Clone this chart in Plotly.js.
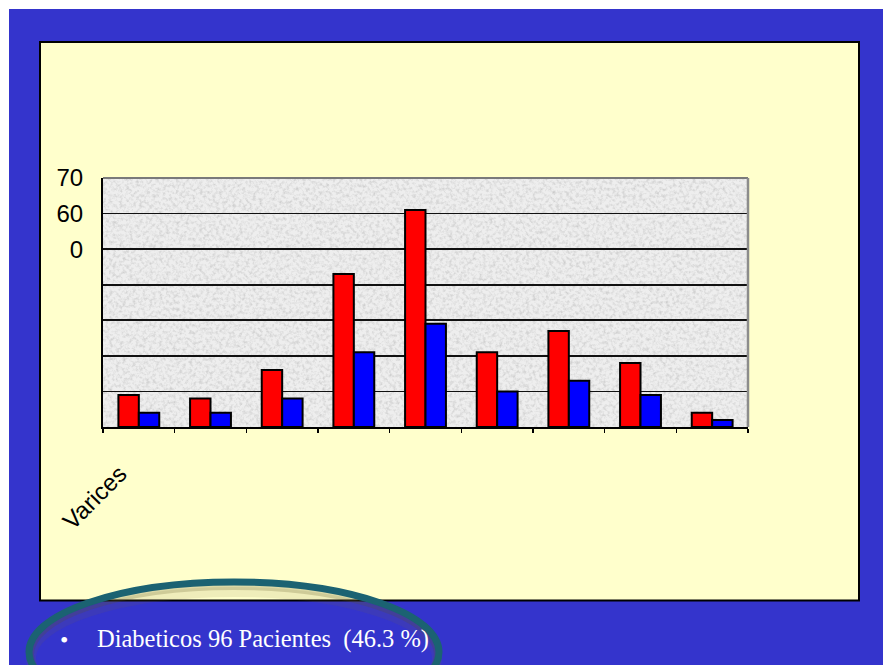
<!DOCTYPE html>
<html>
<head>
<meta charset="utf-8">
<script src="https://cdn.plot.ly/plotly-3.0.1.min.js"></script>
<style>
  html, body { margin: 0; padding: 0; background: #ffffff; }
  #chart { width: 883px; height: 665px; }
</style>
</head>
<body>
<div id="chart"></div>
<script>
// Category positions (nine groups) and the label shown under the first one
const groups = [1, 2, 3, 4, 5, 6, 7, 8, 9];
const firstGroupLabel = "Varices";

// Bar values per group
const redValues  = [9, 8, 16, 43, 61, 21, 27, 18, 4];
const blueValues = [4, 4, 8, 21, 29, 10, 13, 9, 2];

// Y axis ticks and their printed labels
const yTickVals = [0, 10, 20, 30, 40, 50, 60, 70];
const yTickText = ["", "", "", "", "", "0", "60", "70"];

// Bullet line under the chart
const bulletText = "Diabeticos 96 Pacientes  (46.3 %)";

// Page geometry (pixels) of the plot area, used to place decorations
const W = 883, H = 665;
const L = 103, R = 748, T = 178, B = 427;
const px = x => (x - L) / (R - L);
const py = y => (B - y) / (B - T);

// Mottled grey texture for the plot background
const textureSvg =
  "<svg xmlns='http://www.w3.org/2000/svg' width='645' height='249'>" +
  "<filter id='n' x='0' y='0' width='100%' height='100%'>" +
  "<feTurbulence type='fractalNoise' baseFrequency='0.3' numOctaves='3' seed='7'/>" +
  "<feColorMatrix type='matrix' values='0 0 0 0 0.6  0 0 0 0 0.6  0 0 0 0 0.6  2.0 0 0 0 -0.85'/>" +
  "</filter>" +
  "<rect width='100%' height='100%' fill='#EEEEEE'/>" +
  "<rect width='100%' height='100%' filter='url(#n)'/>" +
  "</svg>";
const textureUri = "data:image/svg+xml;charset=utf-8," + encodeURIComponent(textureSvg);

const barLine = { color: "#000000", width: 2 };

const traces = [
  {
    type: "bar", name: "Serie 1", x: groups, y: redValues,
    marker: { color: "#FF0000", line: barLine },
    hoverinfo: "y"
  },
  {
    type: "bar", name: "Serie 2", x: groups, y: blueValues,
    marker: { color: "#0000FF", line: barLine },
    hoverinfo: "y"
  }
];

const boundaryTicks = groups.map(g => g - 0.5).concat([groups[groups.length - 1] + 0.5]);

const layout = {
  width: W, height: H,
  margin: { l: L, r: W - R, t: T, b: H - B, pad: 0 },
  paper_bgcolor: "#ffffff",
  plot_bgcolor: "rgba(0,0,0,0)",
  showlegend: false,
  barmode: "group",
  bargap: 0.43,
  bargroupgap: 0,
  font: { family: "Liberation Sans, Arial, sans-serif", color: "#000000" },
  xaxis: {
    range: [0.5, 9.5],
    showgrid: false, zeroline: false,
    showline: true, linecolor: "#000000", linewidth: 2,
    tickvals: boundaryTicks,
    ticks: "outside", ticklen: 4, tickwidth: 1.5, tickcolor: "#000000",
    showticklabels: false,
    fixedrange: true
  },
  yaxis: {
    range: [0, 70],
    tickvals: yTickVals, ticktext: yTickText,
    showgrid: true, gridcolor: "#111111", gridwidth: 1.6,
    zeroline: false,
    showline: true, linecolor: "#000000", linewidth: 2,
    ticks: "", ticklabelstandoff: 13,
    tickfont: { family: "Liberation Sans, Arial, sans-serif", size: 24, color: "#000000" },
    fixedrange: true
  },
  images: [
    {
      source: textureUri, xref: "x", yref: "y",
      x: 0.5, y: 70, sizex: 9, sizey: 70,
      xanchor: "left", yanchor: "top",
      sizing: "stretch", layer: "below"
    }
  ],
  shapes: [
    // slide background with white margin strip at top and left
    { type: "rect", xref: "paper", yref: "paper", layer: "below",
      x0: px(9), x1: px(W + 2), y0: py(9), y1: py(H + 2),
      fillcolor: "#3434CC", line: { width: 0 } },
    // pale yellow chart panel
    { type: "rect", xref: "paper", yref: "paper", layer: "below",
      x0: px(40), x1: px(859), y0: py(42), y1: py(600.5),
      fillcolor: "#FFFFCC", line: { color: "#000000", width: 2 } },
    // grey frame on top and right of the plot area
    { type: "line", xref: "paper", yref: "paper", layer: "above",
      x0: 0, x1: 1, y0: 1, y1: 1, line: { color: "#7A7A7A", width: 2 } },
    { type: "line", xref: "paper", yref: "paper", layer: "above",
      x0: 1, x1: 1, y0: 0, y1: 1, line: { color: "#8C8C8C", width: 2.5 } },
    // soft shadow under the highlight ellipse
    { type: "circle", xref: "paper", yref: "paper", layer: "above",
      x0: px(31), x1: px(437), y0: py(592), y1: py(724),
      line: { color: "rgba(120,110,60,0.12)", width: 10 } },
    { type: "circle", xref: "paper", yref: "paper", layer: "above",
      x0: px(31), x1: px(437), y0: py(587), y1: py(722),
      line: { color: "rgba(90,80,30,0.22)", width: 6 } },
    // teal highlight ellipse around the bullet
    { type: "circle", xref: "paper", yref: "paper", layer: "above",
      x0: px(29), x1: px(439), y0: py(582), y1: py(722),
      line: { color: "#1B6272", width: 7 } }
  ],
  annotations: [
    { text: firstGroupLabel, xref: "paper", yref: "paper",
      x: px(94), y: py(497), xanchor: "center", yanchor: "middle",
      textangle: -45, showarrow: false,
      font: { family: "Liberation Sans, Arial, sans-serif", size: 24, color: "#000000" } },
    { text: "\u2022", xref: "paper", yref: "paper",
      x: px(64), y: py(640), xanchor: "center", yanchor: "middle",
      showarrow: false,
      font: { family: "Liberation Serif, Times New Roman, serif", size: 24, color: "#FFFFFF" } },
    { text: bulletText, xref: "paper", yref: "paper",
      x: px(95), y: py(639), xanchor: "left", yanchor: "middle",
      showarrow: false,
      font: { family: "Liberation Serif, Times New Roman, serif", size: 24.5, color: "#FFFFFF" } }
  ]
};

Plotly.newPlot("chart", traces, layout, { displayModeBar: false, staticPlot: true });
</script>
</body>
</html>
